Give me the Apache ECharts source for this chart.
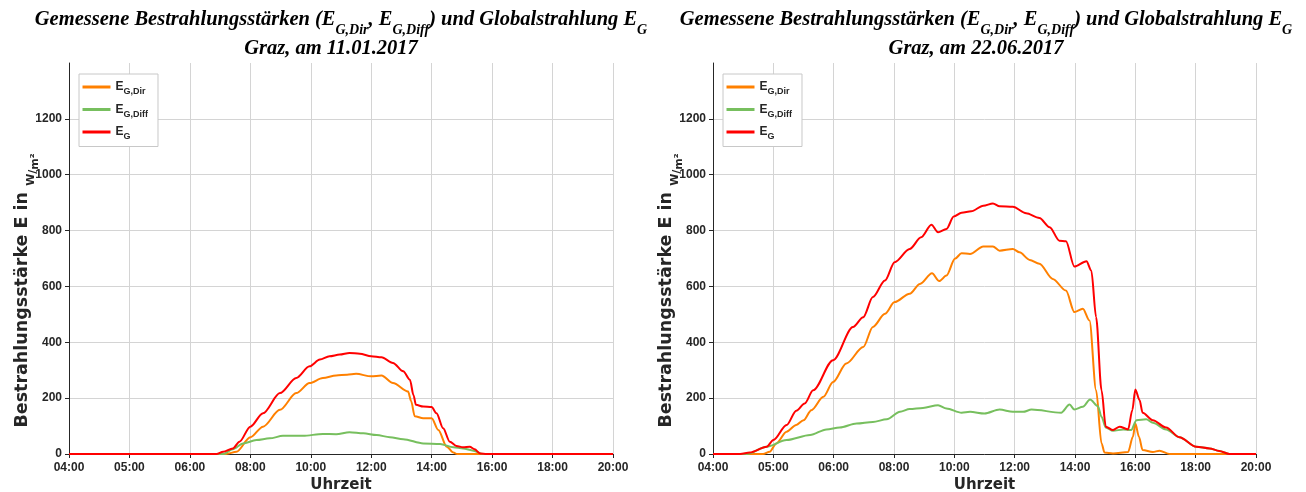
<!DOCTYPE html>
<html>
<head>
<meta charset="utf-8">
<script src="https://cdn.jsdelivr.net/npm/echarts@6/dist/echarts.min.js"></script>
<style>
  html, body { margin: 0; padding: 0; background: #fff; }
  #chart { width: 1306px; height: 492px; }
</style>
</head>
<body>
<div id="chart"></div>
<script>
// Tick labels of the time axis (one label per grid column) and the irradiance axis
const xTickLabels = ['04:00', '05:00', '06:00', '08:00', '10:00', '12:00', '14:00', '16:00', '18:00', '20:00'];
const yTickValues = [0, 200, 400, 600, 800, 1000, 1200];

// 11.01.2017 — [axis position, W/m²]
const janDir = [[0,0],[2.6,0],[2.77,8],[3.0,60],[3.21,98],[3.49,158],[3.76,218],[3.98,254],[4.2,272],[4.42,281],[4.6,284],[4.75,287],[5.0,278],[5.17,281],[5.36,254],[5.61,224],[5.66,190],[5.72,135],[5.86,128],[6.0,128],[6.11,86],[6.25,26],[6.36,5],[6.42,0],[9,0]];
const janDiff = [[0,0],[2.55,0],[2.71,17],[2.88,38],[3.1,50],[3.32,56],[3.54,65],[3.87,65],[4.2,72],[4.42,71],[4.64,78],[4.87,74],[5.09,68],[5.31,60],[5.53,53],[5.86,38],[6.14,36],[6.36,24],[6.52,20],[6.69,12],[6.85,0],[9,0]];
const janGlob = [[0,0],[2.44,0],[2.55,8],[2.71,20],[2.82,44],[3.0,98],[3.21,146],[3.49,218],[3.76,272],[3.98,314],[4.15,338],[4.31,350],[4.48,356],[4.64,362],[4.81,359],[5.0,350],[5.17,346],[5.36,326],[5.53,296],[5.64,266],[5.7,210],[5.74,176],[5.86,170],[6.0,168],[6.08,146],[6.19,92],[6.3,44],[6.41,29],[6.52,24],[6.63,26],[6.71,17],[6.8,2],[6.91,0],[9,0]];

// 22.06.2017 — [axis position, W/m²]
const junDir = [[0,0],[0.83,0],[0.94,8],[1.05,38],[1.22,80],[1.38,104],[1.5,121],[1.63,157],[1.83,205],[1.99,258],[2.21,324],[2.49,383],[2.65,455],[2.85,502],[3.01,544],[3.26,574],[3.43,609],[3.63,647],[3.75,619],[3.87,639],[4.01,699],[4.12,719],[4.26,716],[4.48,743],[4.64,743],[4.75,728],[4.97,734],[5.08,722],[5.25,695],[5.41,681],[5.63,627],[5.85,585],[5.99,508],[6.13,520],[6.24,478],[6.35,228],[6.44,38],[6.49,5],[6.63,2],[6.88,7],[6.96,62],[7.0,109],[7.06,62],[7.12,14],[7.29,7],[7.4,12],[7.57,0],[9,0]];
const junDiff = [[0,0],[0.56,0],[0.89,26],[1.22,50],[1.61,68],[1.88,88],[2.1,95],[2.38,109],[2.65,115],[2.88,124],[3.1,151],[3.26,161],[3.48,165],[3.73,175],[3.87,163],[4.12,148],[4.26,151],[4.5,145],[4.75,159],[4.97,151],[5.14,151],[5.28,159],[5.77,148],[5.91,177],[5.99,159],[6.13,169],[6.25,195],[6.38,171],[6.44,133],[6.51,95],[6.63,83],[6.8,88],[6.93,86],[7.02,121],[7.18,124],[7.29,112],[7.51,88],[7.73,60],[8.01,26],[8.23,20],[8.39,11],[8.56,0],[9,0]];
const junGlob = [[0,0],[0.45,0],[0.61,5],[0.89,26],[1.0,50],[1.22,104],[1.38,155],[1.52,181],[1.66,228],[1.99,336],[2.32,455],[2.49,490],[2.65,562],[2.85,621],[3.01,687],[3.26,734],[3.45,776],[3.62,821],[3.73,794],[3.87,806],[3.99,850],[4.12,864],[4.28,869],[4.48,889],[4.64,897],[4.75,887],[4.97,885],[5.19,862],[5.41,845],[5.58,812],[5.74,764],[5.85,762],[5.99,671],[6.19,690],[6.27,657],[6.35,490],[6.44,228],[6.51,98],[6.63,86],[6.74,98],[6.88,88],[6.95,157],[7.0,231],[7.07,193],[7.12,148],[7.29,121],[7.51,95],[7.73,60],[8.01,26],[8.23,20],[8.39,11],[8.56,0],[9,0]];

const COL_DIR = '#ff8000';
const COL_DIFF = '#77bf5e';
const COL_G = '#ff0000';
const TXT = '#262626';

const serif = 'Liberation Serif';
const sans = 'Liberation Sans';
const wide = 'DejaVu Sans';

const titleRich = {
  t: { fontFamily: serif, fontStyle: 'italic', fontWeight: 'bold', fontSize: 20.5, color: '#000', verticalAlign: 'top' },
  s: { fontFamily: serif, fontStyle: 'italic', fontWeight: 'bold', fontSize: 14, color: '#000', verticalAlign: 'top', padding: [13, 0, 0, 0] }
};
const headline = '{t|Gemessene Bestrahlungsstärken (E}{s|G,Dir}{t|, E}{s|G,Diff}{t|) und Globalstrahlung E}{s|G}';
function titles(center, date) {
  return [
    { text: headline, left: center, top: 10, padding: 0, textAlign: 'center', textStyle: { rich: titleRich } },
    { text: '{t|Graz, am ' + date + '}', left: center - 10, top: 39, padding: 0, textAlign: 'center', textStyle: { rich: titleRich } }
  ];
}

const legendNames = ['EG,Dir', 'EG,Diff', 'EG'];
const legendSubs = { 'EG,Dir': 'G,Dir', 'EG,Diff': 'G,Diff', 'EG': 'G' };

const gridTop = 63, gridH = 391;
const grids = [
  { left: 69, top: gridTop, width: 544, height: gridH, outerBoundsMode: 'none', containLabel: false },
  { left: 713, top: gridTop, width: 543, height: gridH, outerBoundsMode: 'none', containLabel: false }
];

function xAxis(i) {
  return {
    gridIndex: i, type: 'value', min: 0, max: xTickLabels.length - 1, interval: 1,
    name: 'Uhrzeit', nameLocation: 'middle', nameGap: 24, nameMoveOverlap: false,
    nameTextStyle: { fontFamily: wide, fontWeight: 'bold', fontSize: 15, color: TXT },
    axisLine: { show: true, onZero: false, lineStyle: { color: TXT, width: 1 } },
    axisTick: { show: true, inside: false, length: 4, lineStyle: { color: TXT } },
    axisLabel: { formatter: v => xTickLabels[Math.round(v)] || '', fontFamily: sans, fontWeight: 'bold', fontSize: 12, color: TXT, margin: 8 },
    splitLine: { show: true, lineStyle: { color: '#d4d4d4', width: 1 } }
  };
}
function yAxis(i) {
  const top = yTickValues[yTickValues.length - 1] + 200;
  const lineColors = yTickValues.map(() => '#d4d4d4').concat(['rgba(0,0,0,0)']);
  return {
    gridIndex: i, type: 'value', min: 0, max: top, interval: 200,
    name: '{m|Bestrahlungsstärke E in }{w|W}{sl|/}{u|m²}',
    nameLocation: 'middle', nameGap: 28, nameRotate: 90, nameMoveOverlap: false,
    nameTextStyle: {
      padding: [0, 64, 0, 0],
      rich: {
        m: { fontFamily: wide, fontWeight: 'bold', fontSize: 17.5, color: TXT, verticalAlign: 'top' },
        w: { fontFamily: wide, fontWeight: 'bold', fontSize: 11, color: TXT, verticalAlign: 'top', padding: [13, 0, 0, 0] },
        sl: { fontFamily: wide, fontWeight: 'bold', fontSize: 11, color: TXT, verticalAlign: 'top', padding: [15, 0, 0, 0] },
        u: { fontFamily: wide, fontWeight: 'bold', fontSize: 11, color: TXT, verticalAlign: 'top', padding: [17, 0, 0, 0] }
      }
    },
    axisLine: { show: true, lineStyle: { color: TXT, width: 1 } },
    axisTick: { show: true, length: 4, customValues: yTickValues, lineStyle: { color: TXT } },
    axisLabel: { formatter: v => (yTickValues.indexOf(v) >= 0 ? String(v) : ''), fontFamily: sans, fontWeight: 'bold', fontSize: 12, color: TXT, margin: 7 },
    splitLine: { show: true, lineStyle: { color: lineColors, width: 1 } }
  };
}
function legend(left) {
  return {
    orient: 'vertical', left: left, top: 74, data: legendNames,
    backgroundColor: '#fff', borderColor: '#c8c8c8', borderWidth: 1, borderRadius: 0,
    padding: [7, 10, 5, 3.5], itemGap: 7, itemWidth: 28, itemHeight: 3, icon: 'rect',
    selectedMode: false,
    formatter: n => '{e|E}{s|' + legendSubs[n] + '}',
    textStyle: {
      rich: {
        e: { fontFamily: sans, fontWeight: 'bold', fontSize: 12, color: TXT, verticalAlign: 'middle' },
        s: { fontFamily: sans, fontWeight: 'bold', fontSize: 9, color: TXT, verticalAlign: 'top', padding: [10, 0, 0, 0] }
      }
    }
  };
}
function line(name, data, color, i) {
  return {
    type: 'line', name: name, data: data, xAxisIndex: i, yAxisIndex: i,
    showSymbol: false, symbol: 'none', smooth: 0.3, smoothMonotone: 'x',
    lineStyle: { color: color, width: 2 }, itemStyle: { color: color },
    animation: false, z: 3
  };
}

const chart = echarts.init(document.getElementById('chart'), null, { renderer: 'canvas' });
chart.setOption({
  backgroundColor: '#fff',
  animation: false,
  title: titles(341, '11.01.2017').concat(titles(986, '22.06.2017')),
  legend: [legend(79), legend(723)],
  grid: grids,
  xAxis: [xAxis(0), xAxis(1)],
  yAxis: [yAxis(0), yAxis(1)],
  series: [
    line('EG,Dir', janDir, COL_DIR, 0),
    line('EG,Diff', janDiff, COL_DIFF, 0),
    line('EG', janGlob, COL_G, 0),
    line('EG,Dir', junDir, COL_DIR, 1),
    line('EG,Diff', junDiff, COL_DIFF, 1),
    line('EG', junGlob, COL_G, 1)
  ]
});
</script>
</body>
</html>
